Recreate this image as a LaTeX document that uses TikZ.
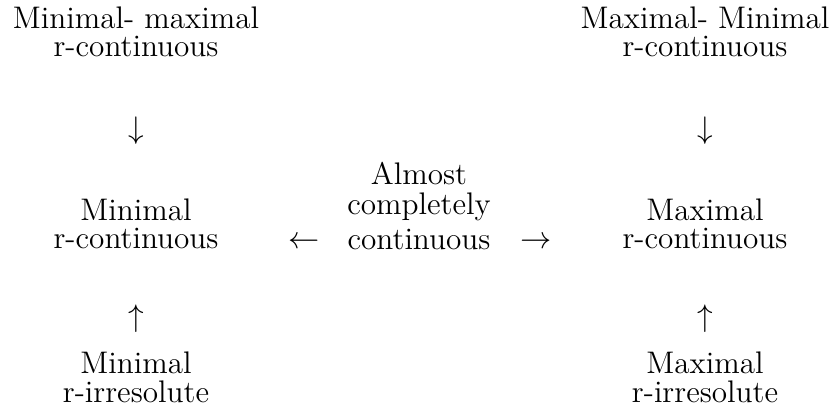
\documentclass[tikz,border=0pt]{standalone}
\begin{document}
\begin{tikzpicture}[x=0.3846pt, y=-0.3846pt,
  lbl/.style={align=center, anchor=base, inner sep=0pt, font=\fontsize{12}{10.9}\selectfont},
  arr/.style={anchor=base, inner sep=0pt, font=\fontsize{12}{10.9}\selectfont}]
\useasboundingbox (0,0) rectangle (833,409);
% top row (anchor = baseline of the last line)
\node[lbl] (mmr) at (136,57) {Minimal- maximal\\ r-continuous};
\node[lbl] (xmr) at (705,57) {Maximal- Minimal\\ r-continuous};
% middle row
\node[lbl] (mr) at (136,249) {Minimal\\ r-continuous};
\node[lbl] (acc) at (419,250) {Almost\\[0.6pt] completely\\[2.6pt] continuous};
\node[lbl] (xr) at (705,249) {Maximal\\ r-continuous};
% bottom row
\node[lbl] (mi) at (136,402) {Minimal\\ r-irresolute};
\node[lbl] (xi) at (705,402) {Maximal\\ r-irresolute};
% arrows between the entries
\node[arr] (d1) at (136,139) {$\downarrow$};
\node[arr] (d2) at (705,139) {$\downarrow$};
\node[arr] (l1) at (304,249) {$\leftarrow$};
\node[arr] (r1) at (536,249) {$\rightarrow$};
\node[arr] (u1) at (136,327) {$\uparrow$};
\node[arr] (u2) at (705,327) {$\uparrow$};
\end{tikzpicture}
\end{document}
